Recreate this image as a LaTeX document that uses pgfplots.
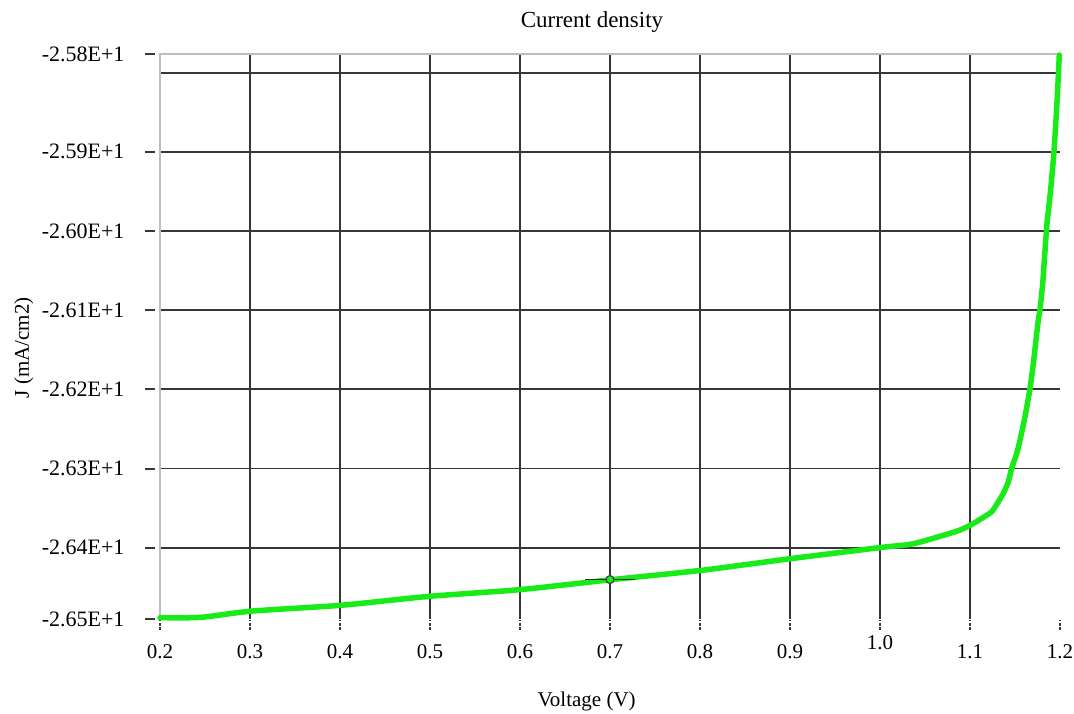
\documentclass[border=0pt]{standalone}
\usepackage{fontspec}
\setmainfont{Liberation Serif}
\usepackage{pgfplots}
\pgfplotsset{compat=1.18}
\definecolor{curvegreen}{RGB}{25,235,25}
\definecolor{gridc}{RGB}{55,55,55}
\definecolor{borderc}{RGB}{190,190,190}
\begin{document}
\begin{tikzpicture}[x=1pt,y=1pt]
\useasboundingbox (0,0) rectangle (1074,713);
\begin{axis}[
  at={(160pt,94pt)}, anchor=south west,
  scale only axis, width=900pt, height=565pt,
  xmin=0.2, xmax=1.2, ymin=-26.490, ymax=-25.7764,
  clip=false,
  axis line style={draw=none},
  font=\fontsize{21}{25}\selectfont,
  xtick pos=bottom, ytick pos=left,
  xtick={0.2,0.3,0.4,0.5,0.6,0.7,0.8,0.9,1.0,1.1,1.2},
  xticklabels={0.2,0.3,0.4,0.5,0.6,0.7,0.8,0.9,\raisebox{9pt}{1.0},1.1,1.2},
  ytick={-26.49,-26.4,-26.3,-26.2,-26.1,-26.0,-25.9,-25.7764},
  yticklabels={-2.65E+1,-2.64E+1,-2.63E+1,-2.62E+1,-2.61E+1,-2.60E+1,-2.59E+1,-2.58E+1},
  tick align=outside, major tick length=10pt,
  every tick/.style={gridc, line width=2pt},
  y tick style={xshift=-5pt},
  x tick style={yshift=-1pt, dash pattern=on 3pt off 1.5pt},
  xticklabel style={anchor=base, yshift=-29pt},
  yticklabel style={anchor=east, xshift=-22pt, font=\fontsize{22}{26}\selectfont},
  extra x ticks={0.3,0.4,0.5,0.6,0.7,0.8,0.9,1.0,1.1},
  extra x tick labels={},
  extra x tick style={grid=major, major tick length=0pt},
  extra y ticks={-26.4,-26.3,-26.2,-26.1,-26.0,-25.9,-25.8},
  extra y tick labels={},
  extra y tick style={grid=major, major tick length=0pt},
  major grid style={gridc, line width=1.8pt},
  title={Current density},
  title style={at={(axis description cs:0.48,1)}, anchor=base, yshift=20pt, font=\fontsize{23}{27}\selectfont},
  xlabel={Voltage (V)},
  xlabel style={at={(axis description cs:0.474,0)}, anchor=base, yshift=-87pt},
  ylabel={J (mA/cm2)},
  ylabel style={at={(axis description cs:-0.1456,0.48)}, anchor=base, rotate=0},
]
\draw[borderc, line width=1.5pt] (rel axis cs:0,0) -- (rel axis cs:0,1) -- (rel axis cs:1,1);
\addplot[curvegreen, line width=5.5pt, line join=round, line cap=round, smooth, tension=0.4] coordinates {
(0.2000,-26.4883) (0.2444,-26.4880) (0.3019,-26.4800) (0.4008,-26.4727)
(0.5000,-26.4613) (0.6000,-26.4529) (0.7026,-26.4402) (0.8019,-26.4285)
(0.9011,-26.4137) (1.0008,-26.3997) (1.0367,-26.3950) (1.0778,-26.3818)
(1.0889,-26.3776) (1.1008,-26.3713) (1.1130,-26.3629) (1.1241,-26.3545)
(1.1315,-26.3419) (1.1370,-26.3313) (1.1426,-26.3166) (1.1463,-26.2997)
(1.1519,-26.2808) (1.1556,-26.2640) (1.1611,-26.2345) (1.1667,-26.1987)
(1.1704,-26.1671) (1.1733,-26.1377) (1.1759,-26.1124) (1.1778,-26.0989)
(1.1808,-26.0660) (1.1826,-26.0366) (1.1856,-25.9900) (1.1894,-25.9500)
(1.1933,-25.8998) (1.1970,-25.8303) (1.1992,-25.7777)
};
\addplot[only marks, mark=*, mark size=4pt,
  mark options={fill=curvegreen, draw=black!75, line width=1.2pt},
  error bars/.cd, x dir=both, x explicit,
  error bar style={black!80, line width=1.8pt}, error mark=none]
  coordinates {(0.7,-26.4402) +- (0.028,0)};
\end{axis}
\end{tikzpicture}
\end{document}
